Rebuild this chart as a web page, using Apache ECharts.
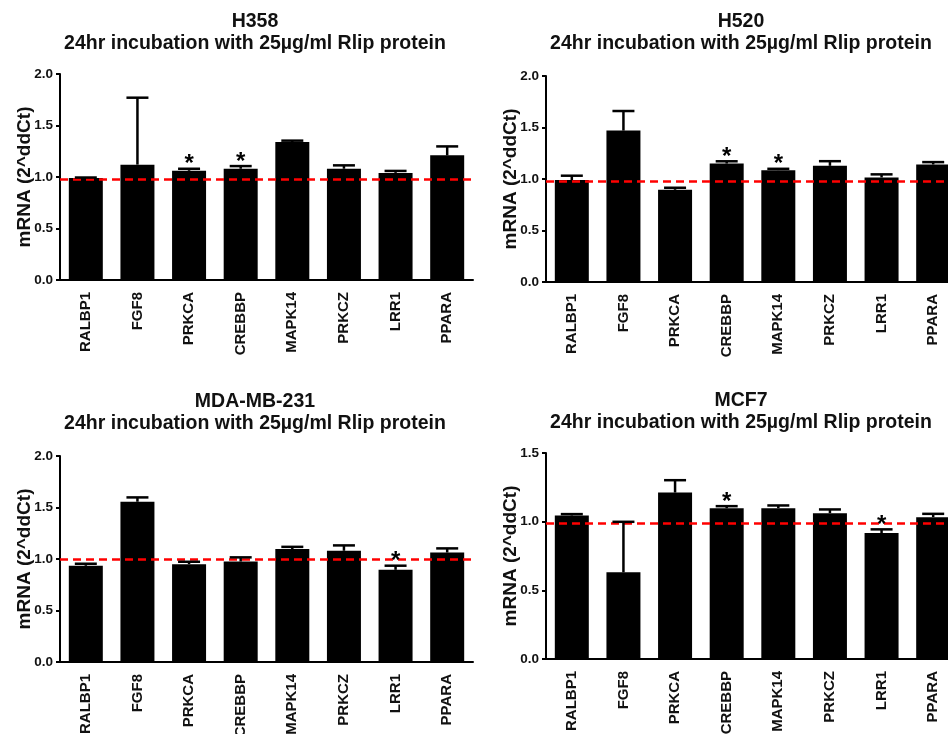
<!DOCTYPE html>
<html><head><meta charset="utf-8">
<script src="https://cdn.jsdelivr.net/npm/echarts@6/dist/echarts.min.js"></script>
<style>html,body{margin:0;padding:0;background:#fff}#c{width:948px;height:734px}</style>
</head><body><div id="c"></div>
<script>
const categories = ['RALBP1','FGF8','PRKCA','CREBBP','MAPK14','PRKCZ','LRR1','PPARA'];
const panelNames = ['H358','H520','MDA-MB-231','MCF7'];
const subtitle = '24hr incubation with 25µg/ml Rlip protein';
const yName = 'mRNA (2^ddCt)';
const h358Mean = [0.99,1.12,1.06,1.08,1.34,1.08,1.04,1.21];
const h358Sem  = [0.005,0.65,0.02,0.026,0.013,0.033,0.019,0.087];
const h358Sig  = ['PRKCA','CREBBP'];
const h520Mean = [0.99,1.47,0.895,1.15,1.086,1.128,1.015,1.141];
const h520Sem  = [0.042,0.19,0.02,0.022,0.013,0.045,0.03,0.023];
const h520Sig  = ['CREBBP','MAPK14'];
const mdaMean  = [0.934,1.556,0.95,0.976,1.096,1.08,0.895,1.063];
const mdaSem   = [0.02,0.042,0.023,0.04,0.022,0.052,0.04,0.04];
const mdaSig   = ['LRR1'];
const mcf7Mean = [1.045,0.631,1.212,1.098,1.098,1.062,0.917,1.033];
const mcf7Sem  = [0.01,0.368,0.09,0.015,0.02,0.027,0.027,0.024];
const mcf7Sig  = ['CREBBP','LRR1'];
const yMax = [2.0,2.0,2.0,1.5];
const yTickStep = 0.5;
const refLine = [0.98,0.98,1.0,0.99];

const means = [h358Mean,h520Mean,mdaMean,mcf7Mean];
const sems = [h358Sem,h520Sem,mdaSem,mcf7Sem];
const sigs = [h358Sig,h520Sig,mdaSig,mcf7Sig];

const FONT = "'Liberation Sans', Arial, sans-serif";
const grids = [
  {left:60, top:74, width:413, height:206},
  {left:546, top:76, width:413, height:206},
  {left:60, top:456, width:413, height:206},
  {left:546, top:453, width:413, height:206}
];
const titlePos = [{x:255,y:11},{x:741,y:11},{x:255,y:391},{x:741,y:390}];

const option = {
  backgroundColor:'#fff',
  animation:false,
  title: titlePos.map((p,i)=>({
    text: panelNames[i] + '\n' + subtitle,
    left: p.x - 5, top: p.y - 5, textAlign:'center',
    textStyle:{fontFamily:FONT,fontWeight:'bold',fontSize:19.5,lineHeight:22,color:'#111'}
  })),
  grid: grids.map(g=>Object.assign({containLabel:false,outerBoundsMode:'none'},g)),
  xAxis: grids.map((g,i)=>({
    type:'category', gridIndex:i, data:categories,
    axisLine:{lineStyle:{color:'#000',width:2}},
    axisTick:{alignWithLabel:true,length:5,lineStyle:{color:'#000',width:2}},
    axisLabel:{rotate:90,margin:12,fontFamily:FONT,fontWeight:'bold',fontSize:15,color:'#111'}
  })),
  yAxis: grids.map((g,i)=>({
    type:'value', gridIndex:i, min:0, max:yMax[i], interval:yTickStep,
    name:yName, nameLocation:'middle', nameRotate:90, nameGap:26, nameMoveOverlap:false,
    nameTextStyle:{fontFamily:FONT,fontWeight:'bold',fontSize:19,color:'#111'},
    splitLine:{show:false},
    axisLine:{show:true,lineStyle:{color:'#000',width:2}},
    axisTick:{show:true,length:4,lineStyle:{color:'#000',width:2}},
    axisLabel:{margin:7,fontFamily:FONT,fontWeight:'bold',fontSize:13.5,color:'#111',formatter:v=>v.toFixed(1)}
  })),
  series: []
};

for (let i=0;i<4;i++){
  option.series.push({
    type:'bar', xAxisIndex:i, yAxisIndex:i, data:means[i], barWidth:34,
    itemStyle:{color:'#000'},
    markLine:{silent:true,symbol:['none','none'],label:{show:false},
      lineStyle:{color:'#ff0000',type:[8,5],width:2.5},
      data:[{yAxis:refLine[i]}]}
  });
  option.series.push({
    type:'custom', xAxisIndex:i, yAxisIndex:i, z:5, clip:false,
    data: categories.map((c,k)=>[k, means[i][k], sems[i][k], sigs[i].includes(c)?1:0]),
    renderItem:(params,api)=>{
      const k=api.value(0), m=api.value(1), s=api.value(2), sig=api.value(3);
      const p0=api.coord([k,m]), p1=api.coord([k,m+s]);
      const cap=11;
      const children=[
        {type:'line',shape:{x1:p0[0],y1:p0[1],x2:p1[0],y2:p1[1]},style:{stroke:'#000',lineWidth:2.5}},
        {type:'line',shape:{x1:p1[0]-cap,y1:p1[1],x2:p1[0]+cap,y2:p1[1]},style:{stroke:'#000',lineWidth:2.5}}
      ];
      if(sig){
        children.push({type:'text',style:{text:'*',x:p1[0],y:p1[1]-4,align:'center',verticalAlign:'middle',
          font:"bold 24px 'Liberation Sans', Arial, sans-serif",fill:'#000'}});
      }
      return {type:'group',children};
    }
  });
}
const chart = echarts.init(document.getElementById('c'));
chart.setOption(option);
</script></body></html>
